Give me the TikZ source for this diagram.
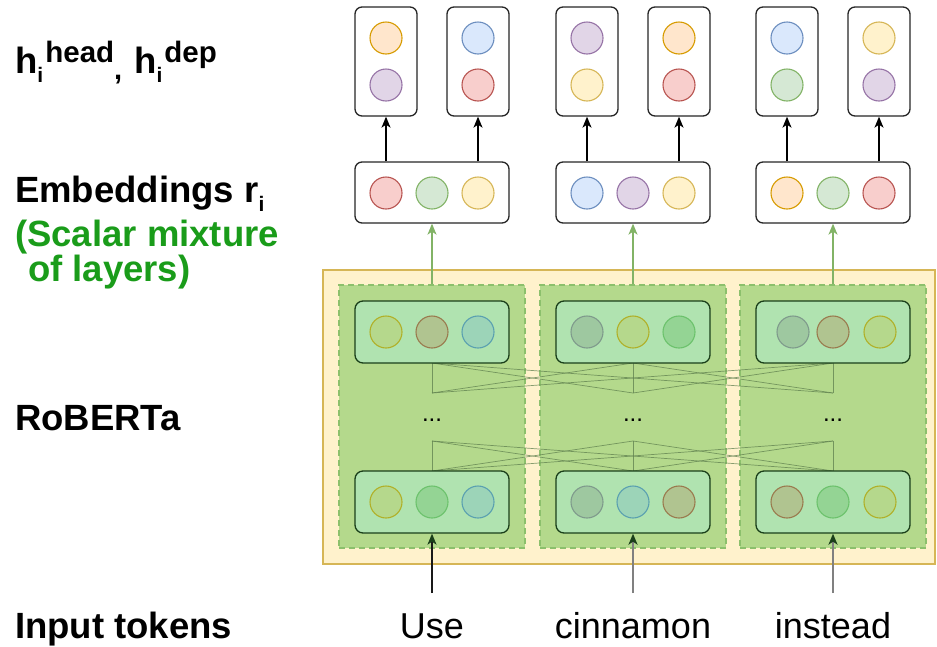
\documentclass[tikz,border=0pt]{standalone}
\usepackage{fontspec}
\setmainfont{Liberation Sans}
\usetikzlibrary{arrows.meta}
\definecolor{pRedF}{HTML}{F8CECC}\definecolor{pRedD}{HTML}{B85450}
\definecolor{pGrnF}{HTML}{D5E8D4}\definecolor{pGrnD}{HTML}{82B366}
\definecolor{pYelF}{HTML}{FFF2CC}\definecolor{pYelD}{HTML}{D6B656}
\definecolor{pBluF}{HTML}{DAE8FC}\definecolor{pBluD}{HTML}{6C8EBF}
\definecolor{pPurF}{HTML}{E1D5E7}\definecolor{pPurD}{HTML}{9673A6}
\definecolor{pOrgF}{HTML}{FFE6CC}\definecolor{pOrgD}{HTML}{D79B00}
\definecolor{dOlvF}{HTML}{B5D88C}\definecolor{dOlvD}{HTML}{B0B028}
\definecolor{dBrnF}{HTML}{B0C490}\definecolor{dBrnD}{HTML}{9A7A4E}
\definecolor{dTeaF}{HTML}{9CD4B8}\definecolor{dTeaD}{HTML}{5AA0B0}
\definecolor{dGryF}{HTML}{9EC8A0}\definecolor{dGryD}{HTML}{7F9A8C}
\definecolor{dGrnF}{HTML}{94D494}\definecolor{dGrnD}{HTML}{6CC26C}
\definecolor{layF}{HTML}{B0E3B0}\definecolor{layD}{HTML}{1A3F1A}
\definecolor{colF}{HTML}{B4D98C}\definecolor{colD}{HTML}{8CC06C}
\definecolor{txtGreen}{HTML}{1A9C1A}
\definecolor{linkC}{HTML}{5E7F4E}
\newcommand{\mysub}[1]{\raisebox{-9pt}{\fontsize{21}{21}\selectfont #1}}
\newcommand{\mysup}[1]{\raisebox{11pt}{\fontsize{29.5}{29.5}\selectfont #1}}
\tikzset{
  dot/.style={circle, minimum size=32pt, inner sep=0pt, line width=1.1pt},
  cRed/.style={dot, fill=pRedF, draw=pRedD},
  cGrn/.style={dot, fill=pGrnF, draw=pGrnD},
  cYel/.style={dot, fill=pYelF, draw=pYelD},
  cBlu/.style={dot, fill=pBluF, draw=pBluD},
  cPur/.style={dot, fill=pPurF, draw=pPurD},
  cOrg/.style={dot, fill=pOrgF, draw=pOrgD},
  kOlv/.style={dot, fill=dOlvF, draw=dOlvD},
  kBrn/.style={dot, fill=dBrnF, draw=dBrnD},
  kTea/.style={dot, fill=dTeaF, draw=dTeaD},
  kGry/.style={dot, fill=dGryF, draw=dGryD},
  kGrn/.style={dot, fill=dGrnF, draw=dGrnD},
  headbox/.style={draw=black!85, fill=white, rounded corners=7pt, line width=1.3pt,
    minimum width=62pt, minimum height=109pt, inner sep=0pt},
  embbox/.style={draw=black!85, fill=white, rounded corners=7pt, line width=1.3pt,
    minimum width=154pt, minimum height=61pt, inner sep=0pt},
  laybox/.style={draw=layD, fill=layF, rounded corners=8pt, line width=1.3pt,
    minimum width=154pt, minimum height=62pt, inner sep=0pt},
  colbox/.style={draw=colD, fill=colF, dashed, dash pattern=on 6pt off 4pt, line width=1.6pt,
    minimum width=186pt, minimum height=263pt, inner sep=0pt},
  outerbox/.style={draw=pYelD, fill=pYelF, line width=2pt, minimum width=612pt,
    minimum height=294pt, inner sep=0pt},
  lbl/.style={font=\fontsize{36.5}{38}\selectfont\bfseries, inner sep=0pt, anchor=base west},
  tok/.style={font=\fontsize{36}{38}\selectfont, inner sep=0pt, anchor=base},
  blk/.style={draw=black, line width=1.4pt, -{Stealth[length=11pt,width=9pt,inset=3pt]}},
  grn/.style={draw=pGrnD, line width=1.3pt, -{Stealth[length=11pt,width=9pt,inset=3pt]}},
  inblk/.style={draw=black!90, line width=1.6pt, -{Stealth[length=11pt,width=9pt,inset=3pt,color=layD]}},
  ingry/.style={draw=black!50, line width=2.2pt, -{Stealth[length=11pt,width=9pt,inset=3pt,color=layD]}},
  link/.style={draw=linkC, line width=0.7pt, draw opacity=0.75},
  ell/.style={font=\fontsize{24}{24}\selectfont, inner sep=0pt, anchor=base}
}
\begin{document}
\begin{tikzpicture}[x=1pt,y=-1pt]
\useasboundingbox (0,0) rectangle (937,646);

% ---------- left labels ----------
\node[lbl] (lh) at (15,73) {h\mysub{i}\hspace{2pt}\mysup{head}\raisebox{-6pt}{\fontsize{29}{29}\selectfont ,}\hspace{12pt}h\mysub{i}\hspace{2pt}\mysup{dep}};
\node[lbl] (le) at (15,202) {Embeddings r\mysub{i}};
\node[lbl, text=txtGreen] (ls1) at (15,246) {(Scalar mixture};
\node[lbl, text=txtGreen] (ls2) at (28,281) {of layers)};
\node[lbl] (lr) at (15,430) {RoBERTa};
\node[lbl] (li) at (15,638) {Input tokens};

% ---------- RoBERTa block ----------
\node[outerbox] (rob) at (629,417) {};
\node[colbox] (c1) at (432,416.5) {};
\node[colbox] (c2) at (633,416.5) {};
\node[colbox] (c3) at (833,416.5) {};

% connection lines between layers
\foreach \i in {432,633,833}{
  \foreach \j in {432,633,833}{
    \draw[link] (\i,363) -- (\j,393);
    \draw[link] (\i,441) -- (\j,471);
  }
}

\node[laybox] (t1) at (432,332) {};
\node[laybox] (t2) at (633,332) {};
\node[laybox] (t3) at (833,332) {};
\node[laybox] (b1) at (432,502) {};
\node[laybox] (b2) at (633,502) {};
\node[laybox] (b3) at (833,502) {};

\node[ell] (d1) at (432,421) {...};
\node[ell] (d2) at (633,421) {...};
\node[ell] (d3) at (833,421) {...};

% layer circles
\node[kOlv] (t1a) at (386,332) {};
\node[kBrn] (t1b) at (432,332) {};
\node[kTea] (t1c) at (478,332) {};
\node[kGry] (t2a) at (587,332) {};
\node[kOlv] (t2b) at (633,332) {};
\node[kGrn] (t2c) at (679,332) {};
\node[kGry] (t3a) at (793,332) {};
\node[kBrn] (t3b) at (833,332) {};
\node[kOlv] (t3c) at (880,332) {};
\node[kOlv] (b1a) at (386,502) {};
\node[kGrn] (b1b) at (432,502) {};
\node[kTea] (b1c) at (478,502) {};
\node[kGry] (b2a) at (587,502) {};
\node[kTea] (b2b) at (633,502) {};
\node[kBrn] (b2c) at (679,502) {};
\node[kBrn] (b3a) at (787,502) {};
\node[kGrn] (b3b) at (833,502) {};
\node[kOlv] (b3c) at (880,502) {};

% ---------- embeddings ----------
\node[embbox] (e1) at (432,192.5) {};
\node[embbox] (e2) at (633,192.5) {};
\node[embbox] (e3) at (833,192.5) {};
\node[cRed] (e1a) at (386,193) {};
\node[cGrn] (e1b) at (432,193) {};
\node[cYel] (e1c) at (478,193) {};
\node[cBlu] (e2a) at (587,193) {};
\node[cPur] (e2b) at (633,193) {};
\node[cYel] (e2c) at (679,193) {};
\node[cOrg] (e3a) at (787,193) {};
\node[cGrn] (e3b) at (833,193) {};
\node[cRed] (e3c) at (879,193) {};

% ---------- head / dep ----------
\node[headbox] (h1) at (386,61.5) {};
\node[headbox] (h2) at (478,61.5) {};
\node[headbox] (h3) at (587,61.5) {};
\node[headbox] (h4) at (679,61.5) {};
\node[headbox] (h5) at (787,61.5) {};
\node[headbox] (h6) at (879,61.5) {};
\node[cOrg] (h1a) at (386,38) {};
\node[cPur] (h1b) at (386,85) {};
\node[cBlu] (h2a) at (478,38) {};
\node[cRed] (h2b) at (478,85) {};
\node[cPur] (h3a) at (587,38) {};
\node[cYel] (h3b) at (587,85) {};
\node[cOrg] (h4a) at (679,38) {};
\node[cRed] (h4b) at (679,85) {};
\node[cBlu] (h5a) at (787,38) {};
\node[cGrn] (h5b) at (787,85) {};
\node[cYel] (h6a) at (879,38) {};
\node[cPur] (h6b) at (879,85) {};

% arrows embeddings -> head/dep
\draw[blk] (e1.north -| h1.south) -- (h1.south);
\draw[blk] (e1.north -| h2.south) -- (h2.south);
\draw[blk] (e2.north -| h3.south) -- (h3.south);
\draw[blk] (e2.north -| h4.south) -- (h4.south);
\draw[blk] (e3.north -| h5.south) -- (h5.south);
\draw[blk] (e3.north -| h6.south) -- (h6.south);

% green arrows RoBERTa -> embeddings
\draw[grn] (c1.north) -- (e1.south);
\draw[grn] (c2.north) -- (e2.south);
\draw[grn] (c3.north) -- (e3.south);

% ---------- input tokens ----------
\node[tok] (w1) at (432,638) {Use};
\node[tok] (w2) at (633,638) {cinnamon};
\node[tok] (w3) at (833,638) {instead};
\coordinate (s1) at (432,593);
\coordinate (s2) at (633,593);
\coordinate (s3) at (833,593);
\draw[inblk] (s1) -- (b1.south);
\draw[ingry] (s2) -- (b2.south);
\draw[ingry] (s3) -- (b3.south);
\end{tikzpicture}
\end{document}
